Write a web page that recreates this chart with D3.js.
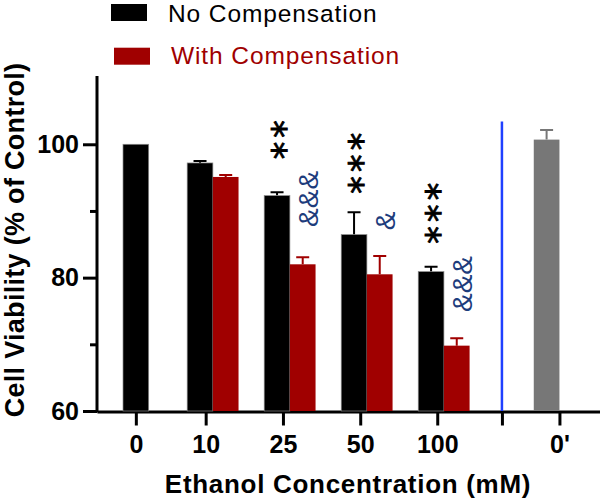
<!DOCTYPE html>
<html>
<head>
<meta charset="utf-8">
<script src="https://cdn.jsdelivr.net/npm/d3@7"></script>
<style>
  html, body { margin: 0; padding: 0; background: #fff; }
  svg { display: block; }
</style>
</head>
<body>
<svg id="chart" width="600" height="500"></svg>
<script>
// ---------------- DATA ----------------
const categories      = ["0", "10", "25", "50", "100"];
const noCompValues    = [100.0, 97.2, 92.3, 86.45, 80.9];
const noCompErrors    = [0.0, 0.3, 0.5, 3.35, 0.75];
const withCompValues  = [null, 95.1, 82.0, 80.5, 69.8];
const withCompErrors  = [null, 0.3, 1.05, 2.75, 1.1];
const controlLabel    = "0'";
const controlValue    = 100.7;
const controlError    = 1.45;
const yMajorTicks     = [60, 80, 100];
const yMinorTicks     = [70, 90];
const xTickLabels     = ["0", "10", "25", "50", "100", "", "0'"];
const seriesNames     = ["No Compensation", "With Compensation"];
// significance marks: category, text, value at the mark's anchor
const starMarks = [
  { cat: "25",  text: "**",  value: 99.05 },
  { cat: "50",  text: "***", value: 93.9 },
  { cat: "100", text: "***", value: 86.4 }
];
const ampMarks = [
  { cat: "25",  text: "&&&", value: 91.8 },
  { cat: "50",  text: "&",   value: 88.5 },
  { cat: "100", text: "&&&", value: 79.05 }
];

// ---------------- LAYOUT ----------------
const svg = d3.select("#chart");
const BLACK = "#000000", RED = "#a00000", GRAY = "#777777", BLUE = "#1f40ff", AMP = "#1d3c7c";
const FONT = "'Liberation Sans', Arial, Helvetica, sans-serif";

const y = d3.scaleLinear().domain([60, 110]).range([411, 77.6]);
// slot scale: one unit = one bar width
const sx = d3.scaleLinear().domain([-1.013, 18.58]).range([97, 600]);
const unit = sx(1) - sx(0);

const groupStart   = [0, 2.5, 5.5, 8.5, 11.5];
const controlSlot  = 16;
const dividerSlot  = 14.76;
const tickSlots    = [0.5, 3.22, 6.23, 9.24, 12.24, dividerSlot, controlSlot + 1.0];

// ---------------- AXES ----------------
const yAxis = d3.axisLeft(y)
  .tickValues([...yMajorTicks, ...yMinorTicks].sort((a, b) => a - b))
  .tickSize(14).tickSizeOuter(0).tickPadding(4)
  .tickFormat(d => yMajorTicks.includes(d) ? d : "");
const gy = svg.append("g").attr("transform", "translate(97,0)").call(yAxis);
gy.select(".domain").attr("stroke-width", 3).attr("d", `M0,${y(60) + 1.5}V${y(110) - 1.5}`);
gy.selectAll(".tick line").attr("stroke-width", 3)
  .filter(d => yMinorTicks.includes(d)).attr("x2", -7);
gy.selectAll(".tick text").attr("font-family", FONT).attr("font-size", 25)
  .attr("font-weight", "bold").attr("fill", "#000");

const xAxis = d3.axisBottom(sx)
  .tickValues(tickSlots).tickSize(14).tickSizeOuter(0).tickPadding(10)
  .tickFormat((d, i) => xTickLabels[i]);
const gx = svg.append("g").attr("transform", "translate(0,411.5)").call(xAxis);
gx.select(".domain").attr("stroke-width", 3);
gx.selectAll(".tick line").attr("stroke-width", 3);
gx.selectAll(".tick text").attr("font-family", FONT).attr("font-size", 25)
  .attr("font-weight", "bold").attr("fill", "#000");

// ---------------- BARS ----------------
const bars = [];
categories.forEach((c, i) => {
  bars.push({ cat: c, series: 0, slot: groupStart[i], value: noCompValues[i], err: noCompErrors[i], color: BLACK });
  if (withCompValues[i] != null)
    bars.push({ cat: c, series: 1, slot: groupStart[i] + 1, value: withCompValues[i], err: withCompErrors[i], color: RED });
});
bars.push({ cat: controlLabel, series: 2, slot: controlSlot, value: controlValue, err: controlError, color: GRAY });

const gb = svg.append("g");
// error bars (upper only)
gb.selectAll(".err").data(bars.filter(b => b.err > 0)).join("path")
  .attr("class", "err")
  .attr("fill", "none")
  .attr("stroke", d => d.color)
  .attr("stroke-width", 2)
  .attr("d", d => {
    const cx = sx(d.slot + 0.5), top = y(d.value + d.err), half = 6.5;
    return `M${cx},${y(d.value)}V${top}M${cx - half},${top}H${cx + half}`;
  });
gb.selectAll(".bar").data(bars).join("rect")
  .attr("class", "bar")
  .attr("x", d => sx(d.slot))
  .attr("width", unit)
  .attr("y", d => y(d.value))
  .attr("height", d => y(60) - y(d.value))
  .attr("fill", d => d.color)
  .attr("stroke", d => d.series === 0 ? "#8a8a8a" : "none")
  .attr("stroke-width", 0.7);

// divider line
svg.append("line")
  .attr("x1", sx(dividerSlot)).attr("x2", sx(dividerSlot))
  .attr("y1", y(103.4)).attr("y2", y(60))
  .attr("stroke", BLUE).attr("stroke-width", 2.5);

// ---------------- SIGNIFICANCE MARKS ----------------
const catIndex = c => categories.indexOf(c);
const STAR_FONT = "'DejaVu Sans', sans-serif";
const STAR_FS = 35, STAR_STEP = 21.7;
starMarks.forEach(m => {
  const cx = sx(groupStart[catIndex(m.cat)] + 0.5) + 2;
  const cy0 = y(m.value);
  for (let k = 0; k < m.text.length; k++) {
    const cy = cy0 - k * STAR_STEP;
    svg.append("text")
      .attr("transform", `translate(${cx + 0.5 * STAR_FS},${cy}) rotate(-90)`)
      .attr("text-anchor", "middle")
      .attr("font-family", STAR_FONT).attr("font-size", STAR_FS)
      .attr("fill", "#000").attr("stroke", "#000").attr("stroke-width", 0.9)
      .text(m.text[k]);
  }
});
const AMP_FS = 28;
ampMarks.forEach(m => {
  const cx = sx(groupStart[catIndex(m.cat)] + 1.5) + 5.5;
  const cy = y(m.value);
  svg.append("text")
    .attr("transform", `translate(${cx + 0.36 * AMP_FS},${cy}) rotate(-90)`)
    .attr("text-anchor", "middle")
    .attr("font-family", FONT).attr("font-size", AMP_FS)
    .attr("fill", AMP).text(m.text);
});

// ---------------- TITLES ----------------
svg.append("text")
  .attr("x", 348).attr("y", 493.3)
  .attr("text-anchor", "middle")
  .attr("font-family", FONT).attr("font-size", 26).attr("font-weight", "bold")
  .attr("letter-spacing", 0.7)
  .text("Ethanol Concentration (mM)");
svg.append("text")
  .attr("transform", "translate(23.5,240) rotate(-90)")
  .attr("text-anchor", "middle")
  .attr("font-family", FONT).attr("font-size", 27).attr("font-weight", "bold")
  .attr("letter-spacing", 0.3)
  .text("Cell Viability (% of Control)");

// ---------------- LEGEND ----------------
const legend = [
  { name: seriesNames[0], color: BLACK, rx: 111, ry: 4,    tx: 168, ty: 21.5 },
  { name: seriesNames[1], color: RED,   rx: 114, ry: 47.7, tx: 171, ty: 64 }
];
legend.forEach(l => {
  svg.append("rect").attr("x", l.rx).attr("y", l.ry).attr("width", 36).attr("height", 17).attr("fill", l.color);
  svg.append("text").attr("x", l.tx).attr("y", l.ty)
    .attr("font-family", FONT).attr("font-size", 24.5)
    .attr("letter-spacing", 0.9)
    .attr("fill", l.color).text(l.name);
});
</script>
</body>
</html>
